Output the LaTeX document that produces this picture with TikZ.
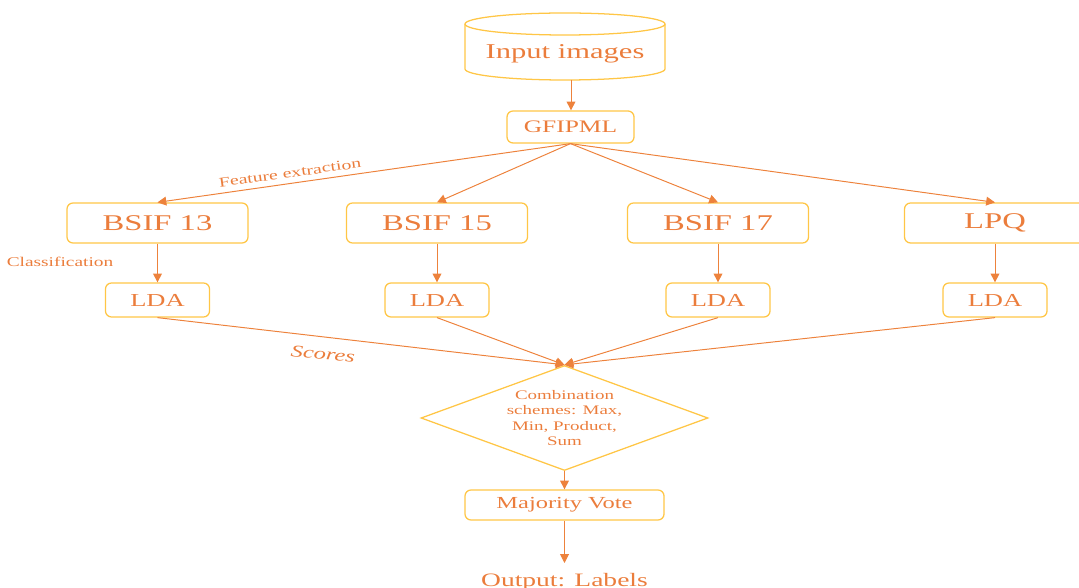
\documentclass[tikz,border=0pt]{standalone}
\usepackage{fontspec}
\setmainfont{Liberation Serif}[FakeStretch=1.45]
\usetikzlibrary{arrows.meta,shapes.geometric}
\definecolor{txtorange}{RGB}{235,125,60}
\definecolor{lineorange}{RGB}{237,130,60}
\definecolor{boxyellow}{RGB}{255,198,70}
\begin{document}
\begin{tikzpicture}[x=0.25mm, y=-0.25mm,
    >={Triangle[length=2.2mm,width=2.2mm]},
    box/.style={draw=boxyellow, line width=0.9pt, rounded corners=1.5mm, text=txtorange, inner sep=0pt},
    link/.style={draw=lineorange, line width=0.7pt},
    lbl/.style={text=txtorange, inner sep=0pt}]
    \useasboundingbox (0,0) rectangle (1079,588);
    \def\fs#1{\fontsize{#1}{#1}\selectfont}

    % Input images (cylinder)
    \draw[boxyellow, line width=0.9pt] (565,24) ellipse (100 and 11);
    \draw[boxyellow, line width=0.9pt] (465,24) -- (465,69) arc (180:0:100 and 11) -- (665,24);
    \node[lbl, font=\fs{15}] (input) at (565,54) {Input images};
    \coordinate (inbot) at (571,80);

    % GFIPML
    \node[box, minimum width=31.75mm, minimum height=8mm, font=\fs{12.5}] (gfipml) at (570.5,127) {GFIPML};
    \draw[link,->] (inbot) -- (inbot |- gfipml.north);

    % Combination
    \node[shape=diamond, draw=boxyellow, line width=0.9pt, aspect=2.73, inner sep=0pt,
          minimum width=71.75mm, minimum height=26.25mm, text=txtorange, align=center,
          font=\fontsize{9.3}{11}\selectfont] (comb) at (564.5,418)
          {Combination\\schemes: Max,\\Min, Product,\\Sum};

    % Features, classifiers and scores
    \foreach \name/\x/\txt in {b13/157.5/BSIF 13, b15/437/BSIF 15, b17/718/BSIF 17, lpq/995/LPQ}{
        \node[box, minimum width=45.25mm, minimum height=10mm, font=\fs{16}] (\name) at (\x,223) {\txt};
        \node[box, minimum width=26mm, minimum height=8.5mm, font=\fs{13}] (lda-\name) at (\x,300) {LDA};
        \draw[link,->] (gfipml.south) -- (\name.north);
        \draw[link,->] (\name) -- (lda-\name);
        \draw[link,->] (lda-\name.south) -- (comb.north);
    }

    % Labels
    \node[lbl, font=\fs{9.7}, rotate=8] (featlbl) at (290,173) {Feature extraction};
    \node[lbl, font=\fs{9.5}] (classlbl) at (60,262) {Classification};
    \node[lbl, font=\itshape\fs{12}, rotate=-6] (scorelbl) at (323,354) {Scores};

    % Majority vote and output
    \node[box, minimum width=49.75mm, minimum height=7.5mm, font=\fs{12}] (major) at (564.5,505) {Majority Vote};
    \draw[link,->] (comb.south) -- (major);
    \node[lbl, font=\fs{13.5}, anchor=base] (output) at (564.5,586) {Output: Labels};
    \coordinate (outtip) at (564.5,563);
    \draw[link,->] (major) -- (outtip);
\end{tikzpicture}
\end{document}
